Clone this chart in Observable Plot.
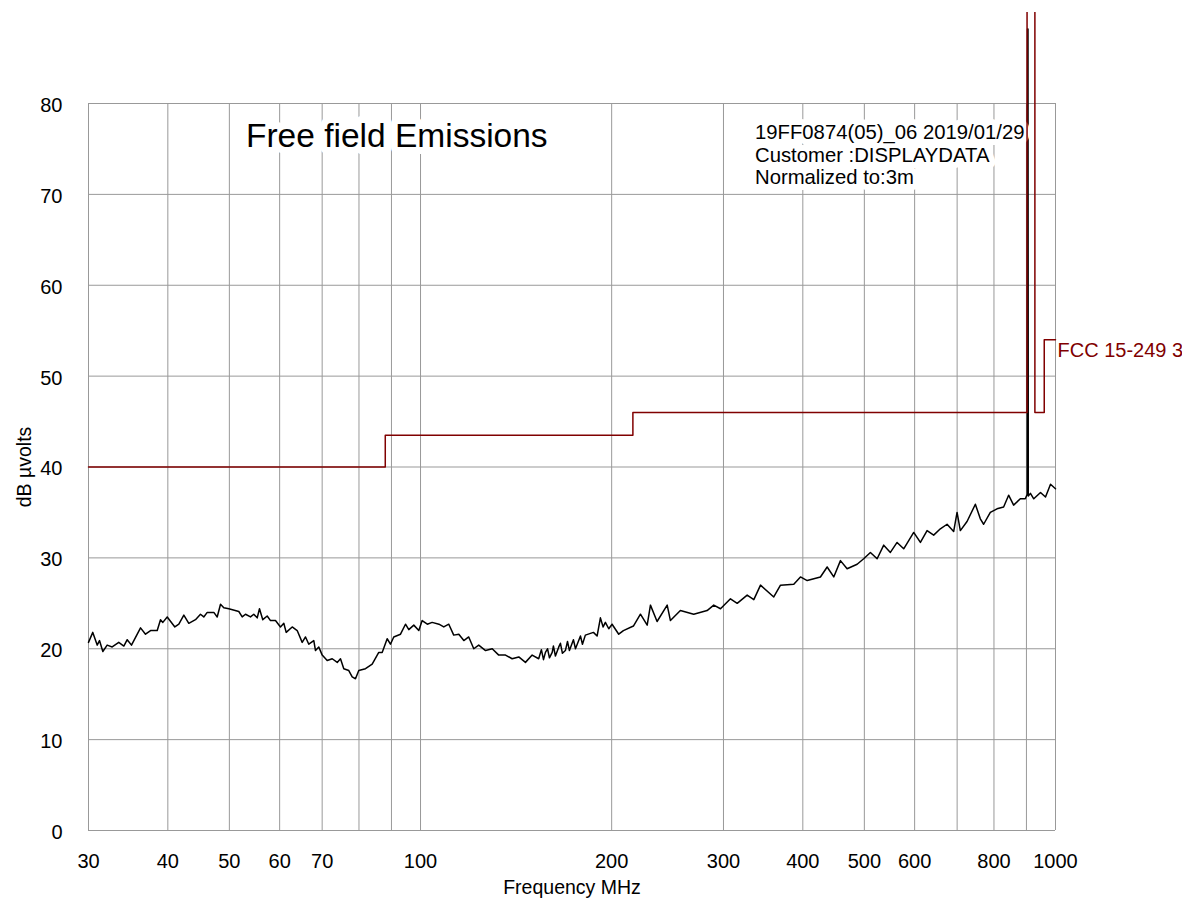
<!DOCTYPE html>
<html>
<head>
<meta charset="utf-8">
<script src="https://cdn.jsdelivr.net/npm/d3@7"></script>
<script src="https://cdn.jsdelivr.net/npm/@observablehq/plot@0.6"></script>
<style>
  html, body { margin: 0; padding: 0; background: white; }
  body { padding-top: 12px; }
  #chart svg { display: block; }
</style>
</head>
<body>
<div id="chart"></div>
<script>
// Measured trace (frequency in MHz, level in dB µV)
const traceFreq = [30.0,30.47,30.96,31.22,31.60,32.10,32.69,33.48,34.10,34.52,35.06,36.23,36.89,37.57,38.49,38.95,39.28,39.91,41.03,41.63,42.39,43.16,44.22,45.03,45.57,46.14,47.26,47.84,48.42,49.00,49.90,51.74,52.38,53.01,53.98,54.63,55.31,55.77,56.44,57.35,58.04,59.10,60.18,60.91,61.44,62.79,63.94,65.11,65.90,66.69,67.91,68.33,69.15,70.01,71.29,72.60,73.93,74.81,75.71,77.10,78.05,78.99,79.94,81.91,83.92,85.95,87.02,88.61,89.67,90.75,93.00,94.70,95.84,97.59,99.38,100.6,102.5,104.3,106.9,108.8,110.8,112.8,114.9,117.0,119.1,121.3,123.5,126.6,129.7,132.8,136.1,139.4,142.8,146.3,149.9,153.5,155.0,156.2,157.3,158.5,159.6,161.2,161.9,163.1,165.1,166.1,167.3,169.1,170.4,171.6,174.1,175.4,178.6,179.9,181.8,187.2,189.7,192.0,193.9,195.5,197.9,200.3,205.2,208.7,216.4,222.0,227.5,230.2,235.8,244.6,247.5,256.6,269.3,282.7,289.6,296.8,307.7,315.3,326.9,334.9,343.1,360.0,368.9,387.1,396.6,406.4,426.4,436.9,447.5,458.5,469.7,487.1,498.8,511.1,523.7,536.4,549.5,563.0,576.7,598.0,612.7,627.7,642.9,658.7,674.9,691.2,699.8,708.2,725.6,747.8,761.4,770.6,789.5,808.9,828.5,843.7,859.1,880.2,896.3,902.5,903.5,905.0,906.0,913.1,924.2,947.1,964.4,982.1,1000];
const traceLevel = [20.7,21.8,20.4,20.9,19.7,20.4,20.2,20.7,20.3,21.0,20.4,22.3,21.6,22.0,22.0,23.2,22.9,23.5,22.4,22.7,23.7,22.8,23.2,23.8,23.5,24.0,24.0,23.5,24.9,24.5,24.4,24.1,23.5,23.8,23.5,23.8,23.4,24.4,23.2,23.6,23.1,23.1,22.4,22.8,21.8,22.4,22.0,20.7,21.3,20.5,20.9,19.8,20.2,19.3,18.7,18.9,18.5,18.9,17.8,17.6,16.9,16.7,17.6,17.8,18.3,19.6,19.6,21.1,20.5,21.3,21.6,22.7,22.1,22.6,22.0,23.1,22.7,22.9,22.7,22.4,22.7,21.5,21.6,20.9,21.3,20.0,20.4,19.8,20.0,19.3,19.3,18.9,19.1,18.5,19.3,18.9,19.9,18.8,19.6,20.0,19.0,19.6,20.3,19.2,20.2,20.6,19.5,19.8,20.8,19.8,21.0,20.0,21.4,20.5,21.5,21.8,21.4,23.4,22.4,22.9,22.2,22.7,21.6,22.0,22.5,23.8,22.6,24.8,23.0,24.8,23.1,24.2,23.8,24.2,24.8,24.4,25.5,25.0,25.9,25.4,27.0,25.7,27.0,27.1,27.9,27.5,27.9,29.0,27.9,29.7,28.8,29.3,29.9,30.6,29.9,31.4,30.6,31.7,31.0,32.8,31.7,33.0,32.5,33.2,33.7,32.9,35.0,33.0,34.0,35.9,34.3,33.7,35.0,35.4,35.6,36.9,35.8,36.5,36.5,37.0,88.2,88.2,36.8,37.1,36.5,37.2,36.7,38.1,37.6];

// Limit line (FCC 15-249, 3 m)
const limitFreq  = [30, 88, 88, 216, 216, 902, 902, 928, 928, 960, 960, 1000];
const limitLevel = [40, 40, 43.5, 43.5, 46, 46, 94, 94, 46, 46, 54, 54];
const limitLabel = "FCC 15-249 3m";

// Axes
const xGrid = [30,40,50,60,70,80,90,100,200,300,400,500,600,700,800,900,1000];
const xTickLabels = [30,40,50,60,70,100,200,300,400,500,600,800,1000];
const yTicks = [0,10,20,30,40,50,60,70,80];
const xLabel = "Frequency MHz";
const yLabel = "dB µvolts";
const title = "Free field Emissions";
const infoLines = ["19FF0874(05)_06 2019/01/29", "Customer :DISPLAYDATA", "Normalized to:3m"];

const trace = traceFreq.map((f, i) => ({f, v: traceLevel[i]}));
const limit = limitFreq.map((f, i) => ({f, v: limitLevel[i]}));

const font = "Liberation Sans, Arial, Helvetica, sans-serif";
const limitColor = "#800000";

const titleOpts = {frameAnchor: "top-left", textAnchor: "start", lineAnchor: "top", dx: 157.5, dy: 20, fontSize: 33.5};
const infoOpts = {frameAnchor: "top-left", textAnchor: "start", lineAnchor: "top", dx: 666.5, dy: 19.5, fontSize: 20.3, lineHeight: 1.11};
const infoText = infoLines.join("\n");

const chart = Plot.plot({
  width: 1182,
  height: 888,
  marginLeft: 88,
  marginRight: 127,
  marginTop: 91,
  marginBottom: 70,
  style: {fontFamily: font, background: "white", overflow: "hidden"},
  x: {type: "log", domain: [30, 1000], axis: null},
  y: {domain: [0, 80], axis: null},
  marks: [
    Plot.ruleY(yTicks, {y: d => d, stroke: "#999", strokeWidth: 1}),
    Plot.ruleX(xGrid, {x: d => d, stroke: "#999", strokeWidth: 1}),
    Plot.line(trace, {x: "f", y: "v", stroke: "black", strokeWidth: 1.5}),
    // white backing behind the title and info box
    Plot.text([title], {...titleOpts, fill: "white", stroke: "white", strokeWidth: 14}),
    Plot.text([infoText], {...infoOpts, fill: "white", stroke: "white", strokeWidth: 12}),
    Plot.text([title], {...titleOpts, fill: "black"}),
    Plot.text([infoText], {...infoOpts, fill: "black"}),
    Plot.line(limit, {x: "f", y: "v", stroke: limitColor, strokeWidth: 1.5}),
    Plot.text([limit[limit.length - 1]], {x: "f", y: "v", text: () => limitLabel, textAnchor: "start",
      lineAnchor: "top", dx: 2, dy: 3.5, fontSize: 20, fill: limitColor}),
    Plot.text(xTickLabels, {x: d => d, text: d => String(d), frameAnchor: "bottom", lineAnchor: "top",
      dy: 23, fontSize: 20, fill: "black"}),
    Plot.text(yTicks, {y: d => d, text: d => String(d), frameAnchor: "left", textAnchor: "end",
      dx: -26, dy: 2, fontSize: 20, fill: "black"}),
    Plot.text([xLabel], {frameAnchor: "bottom", lineAnchor: "top", dy: 50, fontSize: 19.5, fill: "black"}),
    Plot.text([yLabel], {frameAnchor: "left", textAnchor: "middle", lineAnchor: "middle", rotate: -90,
      dx: -64, fontSize: 19.5, fill: "black"})
  ]
});
document.getElementById("chart").appendChild(chart);
</script>
</body>
</html>
